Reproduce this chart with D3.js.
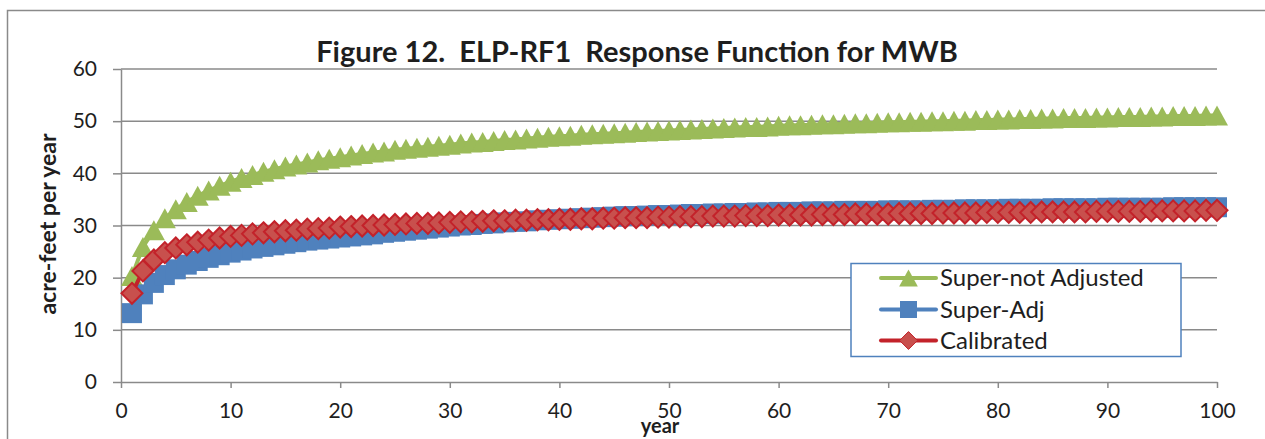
<!DOCTYPE html>
<html>
<head>
<meta charset="utf-8">
<script src="https://cdnjs.cloudflare.com/ajax/libs/d3/7.8.5/d3.min.js"></script>
<style>
  html, body { margin: 0; padding: 0; background: #fff; }
  svg text { font-family: Lato, 'Liberation Sans', sans-serif; fill: #1e1e1e; }
</style>
</head>
<body>
<svg id="chart" width="1265" height="439"></svg>
<script>
'use strict';

// years 1..100 (x categories)
var years = [1, 2, 3, 4, 5, 6, 7, 8, 9, 10, 11, 12, 13, 14, 15, 16, 17, 18, 19, 20,
    21, 22, 23, 24, 25, 26, 27, 28, 29, 30, 31, 32, 33, 34, 35, 36, 37, 38, 39, 40,
    41, 42, 43, 44, 45, 46, 47, 48, 49, 50, 51, 52, 53, 54, 55, 56, 57, 58, 59, 60,
    61, 62, 63, 64, 65, 66, 67, 68, 69, 70, 71, 72, 73, 74, 75, 76, 77, 78, 79, 80,
    81, 82, 83, 84, 85, 86, 87, 88, 89, 90, 91, 92, 93, 94, 95, 96, 97, 98, 99, 100];

var superNotAdjusted = [20.3, 25.9, 29.1, 31.4, 33.1, 34.5, 35.7, 36.7, 37.6, 38.4,
    39.1, 39.7, 40.3, 40.8, 41.3, 41.7, 42.1, 42.5, 42.8, 43.1,
    43.4, 43.7, 44.0, 44.2, 44.5, 44.7, 44.9, 45.1, 45.3, 45.5,
    45.7, 45.9, 46.0, 46.2, 46.4, 46.5, 46.7, 46.8, 47.0, 47.1,
    47.2, 47.4, 47.5, 47.6, 47.7, 47.8, 47.9, 48.0, 48.1, 48.2,
    48.3, 48.4, 48.5, 48.6, 48.7, 48.8, 48.9, 48.9, 49.0, 49.1,
    49.2, 49.2, 49.3, 49.4, 49.4, 49.5, 49.6, 49.6, 49.7, 49.8,
    49.8, 49.9, 49.9, 50.0, 50.0, 50.1, 50.1, 50.2, 50.2, 50.3,
    50.3, 50.4, 50.4, 50.5, 50.5, 50.6, 50.6, 50.6, 50.7, 50.7,
    50.8, 50.8, 50.8, 50.9, 50.9, 51.0, 51.0, 51.0, 51.1, 51.1];

var superAdj = [13.2, 16.8, 19.0, 20.5, 21.6, 22.5, 23.2, 23.8, 24.3, 24.8,
    25.2, 25.6, 25.9, 26.2, 26.5, 26.8, 27.1, 27.3, 27.5, 27.7,
    27.9, 28.1, 28.3, 28.6, 28.8, 29.0, 29.2, 29.4, 29.6, 29.8,
    30.0, 30.1, 30.3, 30.4, 30.6, 30.7, 30.8, 31.0, 31.1, 31.2,
    31.3, 31.4, 31.5, 31.6, 31.7, 31.8, 31.8, 31.9, 32.0, 32.0,
    32.1, 32.2, 32.2, 32.3, 32.3, 32.4, 32.4, 32.5, 32.5, 32.6,
    32.6, 32.6, 32.7, 32.7, 32.7, 32.8, 32.8, 32.8, 32.8, 32.9,
    32.9, 32.9, 32.9, 33.0, 33.0, 33.0, 33.1, 33.1, 33.1, 33.1,
    33.2, 33.2, 33.2, 33.2, 33.3, 33.3, 33.3, 33.3, 33.3, 33.4,
    33.4, 33.4, 33.4, 33.4, 33.4, 33.5, 33.5, 33.5, 33.5, 33.5];

var calibrated = [17.0, 21.3, 23.4, 24.8, 25.7, 26.3, 26.8, 27.2, 27.6, 27.9,
    28.1, 28.4, 28.6, 28.8, 29.0, 29.1, 29.3, 29.4, 29.5, 29.7,
    29.8, 29.9, 30.0, 30.1, 30.2, 30.3, 30.4, 30.4, 30.5, 30.6,
    30.7, 30.7, 30.8, 30.9, 30.9, 31.0, 31.0, 31.1, 31.1, 31.2,
    31.2, 31.3, 31.3, 31.4, 31.4, 31.5, 31.5, 31.5, 31.6, 31.6,
    31.7, 31.7, 31.7, 31.8, 31.8, 31.8, 31.9, 31.9, 31.9, 32.0,
    32.0, 32.0, 32.0, 32.1, 32.1, 32.1, 32.2, 32.2, 32.2, 32.2,
    32.3, 32.3, 32.3, 32.3, 32.4, 32.4, 32.4, 32.4, 32.5, 32.5,
    32.5, 32.5, 32.5, 32.6, 32.6, 32.6, 32.6, 32.6, 32.7, 32.7,
    32.7, 32.7, 32.7, 32.8, 32.8, 32.8, 32.8, 32.8, 32.9, 32.9];

var seriesNames = ['Super-not Adjusted', 'Super-Adj', 'Calibrated'];
var xTicks = [0, 10, 20, 30, 40, 50, 60, 70, 80, 90, 100];
var yTicks = [0, 10, 20, 30, 40, 50, 60];

(function() {
    var svg = d3.select('#chart');

    var plotLeft = 121, plotRight = 1217, plotTop = 69, plotBottom = 382;
    var x = d3.scaleLinear().domain([0, 100]).range([plotLeft, plotRight]);
    var y = d3.scaleLinear().domain([0, 60]).range([plotBottom, plotTop]);

    var gridColor = '#8a8a8a';

    // outer chart frame (only top and left edges show in the crop)
    svg.append('path')
        .attr('d', 'M7.5,439V10.5H1265')
        .attr('fill', 'none')
        .attr('stroke', '#8a8a8a')
        .attr('stroke-width', 1.5);

    // gridlines
    svg.append('g')
        .selectAll('line')
        .data(yTicks.filter(function(d) { return d !== 0; }))
        .join('line')
        .attr('x1', plotLeft)
        .attr('x2', plotRight)
        .attr('y1', function(d) { return y(d); })
        .attr('y2', function(d) { return y(d); })
        .attr('stroke', gridColor)
        .attr('stroke-width', 1.5);

    var yAxis = svg.append('g')
        .attr('transform', 'translate(' + plotLeft + ',0)')
        .call(d3.axisLeft(y).tickValues(yTicks).tickSizeInner(8).tickSizeOuter(0).tickPadding(16));

    var xAxis = svg.append('g')
        .attr('transform', 'translate(0,' + plotBottom + ')')
        .call(d3.axisBottom(x).tickValues(xTicks).tickSizeInner(6).tickSizeOuter(0).tickPadding(15));

    [yAxis, xAxis].forEach(function(g) {
        g.selectAll('path, line').attr('stroke', gridColor).attr('stroke-width', 1.5);
        g.selectAll('text')
            .style('font-size', '21px')
            .style('font-family', 'Lato, sans-serif')
            .attr('fill', '#1e1e1e');
    });

    // titles
    svg.append('text')
        .attr('x', 637)
        .attr('y', 62)
        .attr('text-anchor', 'middle')
        .style('white-space', 'pre')
        .style('font-size', '29px')
        .style('font-weight', 'bold')
        .text('Figure 12.  ELP-RF1  Response Function for MWB');

    svg.append('text')
        .attr('transform', 'translate(56,224) rotate(-90)')
        .attr('text-anchor', 'middle')
        .style('font-size', '23px')
        .style('font-weight', 'bold')
        .text('acre-feet per year');

    svg.append('text')
        .attr('x', 660)
        .attr('y', 433)
        .attr('text-anchor', 'middle')
        .style('font-size', '20px')
        .style('font-weight', 'bold')
        .text('year');

    // marker shapes
    var markerPath = {
        triangle: function(s) { return 'M0,' + (-s) + 'L' + (s * 1.1) + ',' + s + 'L' + (-s * 1.1) + ',' + s + 'Z'; },
        square: function(s) { return 'M' + (-s) + ',' + (-s) + 'H' + s + 'V' + s + 'H' + (-s) + 'Z'; },
        diamond: function(s) { return 'M0,' + (-s * 1.05) + 'L' + (s * 1.05) + ',0L0,' + (s * 1.05) + 'L' + (-s * 1.05) + ',0Z'; }
    };

    var series = [
        { name: seriesNames[0], values: superNotAdjusted, line: '#9BBB59', fill: '#9BBB59', stroke: '#9BBB59', sw: 0, shape: 'triangle' },
        { name: seriesNames[1], values: superAdj, line: '#4F81BD', fill: '#4F81BD', stroke: '#4F81BD', sw: 0, shape: 'square' },
        { name: seriesNames[2], values: calibrated, line: '#C3222A', fill: '#C8504D', stroke: '#C3222A', sw: 2, shape: 'diamond' }
    ];

    var line = d3.line()
        .x(function(d) { return x(d.year); })
        .y(function(d) { return y(d.v); });

    series.forEach(function(s) {
        var pts = years.map(function(yr, i) { return { year: yr, v: s.values[i] }; });
        var g = svg.append('g');
        g.append('path')
            .attr('d', line(pts))
            .attr('fill', 'none')
            .attr('stroke', s.line)
            .attr('stroke-width', 4);
        g.selectAll('path.m')
            .data(pts)
            .join('path')
            .attr('class', 'm')
            .attr('transform', function(d) { return 'translate(' + x(d.year) + ',' + y(d.v) + ')'; })
            .attr('d', markerPath[s.shape](10))
            .attr('fill', s.fill)
            .attr('stroke', s.stroke)
            .attr('stroke-width', s.sw);
    });

    // legend
    var legend = svg.append('g');
    legend.append('rect')
        .attr('x', 851)
        .attr('y', 263.5)
        .attr('width', 330)
        .attr('height', 93)
        .attr('fill', '#fff')
        .attr('stroke', '#4F81BD')
        .attr('stroke-width', 1.5);

    var rowY = [278, 309.5, 340.5];
    series.forEach(function(s, i) {
        var row = legend.append('g').attr('transform', 'translate(0,' + rowY[i] + ')');
        row.append('line')
            .attr('x1', 881)
            .attr('x2', 936)
            .attr('stroke', s.line)
            .attr('stroke-width', 4)
            .attr('stroke-linecap', 'round');
        row.append('path')
            .attr('transform', 'translate(908.5,0)')
            .attr('d', markerPath[s.shape](8.5))
            .attr('fill', s.fill)
            .attr('stroke', s.stroke)
            .attr('stroke-width', s.sw ? 1 : 0);
        row.append('text')
            .attr('x', 940)
            .attr('dy', '0.35em')
            .style('font-size', '24px')
            .text(s.name);
    });
})();
</script>
</body>
</html>
